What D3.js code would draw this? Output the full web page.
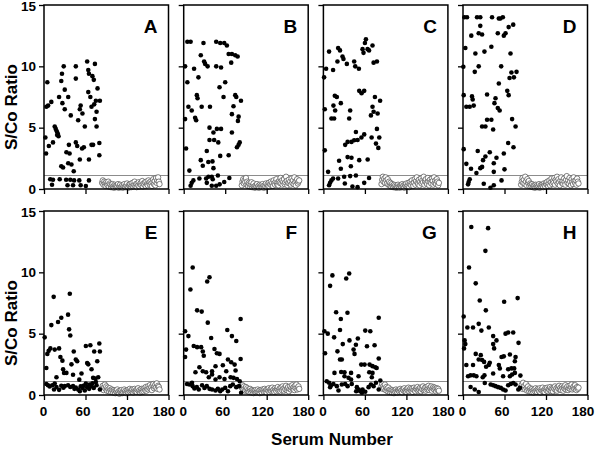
<!DOCTYPE html>
<html><head><meta charset="utf-8">
<script src="https://cdn.jsdelivr.net/npm/d3@7"></script>
<style>body{margin:0;background:#fff}svg{display:block}text{font-family:"Liberation Sans",Arial,sans-serif;font-weight:bold}</style>
</head><body><svg id="c" width="600" height="450"></svg>
<script>
// ---- data ----
const panelLetters = ["A","B","C","D","E","F","G","H"];
const xTicks = [0, 60, 120, 180];
const yTicks = [0, 5, 10, 15];
const cutoff = 1.1;
const negStart = 84; // serum number of first negative serum

const posA = [[4.8,8.7],[3.4,6.7],[6,6.8],[10.6,7.1],[2,4.2],[7,3.5],[3,2.9],[13,3.8],[15.5,5.1],[17,4.9],[18.5,4.7],[20,4.5],[21,4.3],[19,4.4],[9,0.8],[11.6,0.35],[13,0.75],[22.7,0.8],[21.8,7.5],[25,8.8],[26,9.4],[28.5,10],[30,8.1],[26.6,7],[30,6.5],[25,1.85],[27.6,1.75],[32.4,3.0],[36,3.6],[37,2.9],[35,7.5],[38.7,6.0],[35,2.1],[39.7,2.0],[43,1.45],[43.5,0.7],[32,0.75],[34,0.3],[38,0.75],[42,0.3],[46,10],[46,9],[49.4,5.6],[51.8,6.5],[53,6.8],[55.6,6.15],[46,3.8],[48,3.5],[51.8,2.4],[55,3.3],[57.6,3.4],[59,5.1],[51,0.7],[53,0.3],[60.5,0.25],[65,0.7],[62.4,10.4],[64,9.7],[65,9.4],[64,7.9],[67,7.5],[70,9.2],[72,8.9],[73.6,10.2],[68.7,6.7],[72.6,6.9],[75,7.2],[77.4,8.2],[80.8,7.2],[76,6.3],[73.6,5.7],[76,5.1],[65,2.4],[68.7,3.6],[71,3.6],[80,3.75],[80,2.75]];
const posB = [[5.3,12],[10,12],[28.6,11.9],[47,12],[52.8,11.9],[58.6,11.9],[62.4,11.7],[65,11],[69.7,11],[74.5,10.9],[78,10.8],[24.7,10.9],[29.5,10.4],[31,10.2],[34.6,10],[47,10],[54,9.9],[68.7,10.3],[2,10],[15,9.8],[21.3,9.1],[5.3,8.7],[51.8,8.3],[60,8.7],[19,7.65],[20,7.4],[57.6,7.5],[74.5,7.65],[76,7.5],[82.8,7.2],[6.8,6.7],[11.6,6.4],[26,6.7],[38,6.7],[72,6.75],[69.7,6.1],[79.4,5.9],[78.4,5.55],[16.5,5.8],[18,5.6],[2,5.7],[37.3,5.0],[48,4.9],[54,4.9],[43,4.6],[69.7,4.6],[37.3,4.0],[44,4.0],[50,3.8],[81,3.8],[79.4,3.6],[77,3.4],[33.4,3.1],[52.8,2.7],[65,2.75],[3.4,3.3],[24.7,2.35],[27.6,1.9],[35.6,2.2],[41.6,2.25],[43,1.7],[8.2,1.5],[35.8,1.0],[40.6,1.0],[49.4,1.1],[22.7,0.85],[32.4,0.85],[42,0.8],[58.6,0.57],[66,0.9],[14,0.7],[11.6,0.5],[10,0.27],[33.4,0.5],[40.6,0.27],[47,0.27],[52,0.38]];
const posC = [[61.5,12.2],[60,11.9],[71,11.7],[56.6,11.4],[63.9,11.4],[66,11.3],[58,11.1],[21.3,11.5],[24,11.3],[8.2,11.2],[27.6,10.8],[29,10.6],[20.3,10.4],[33.9,10.2],[44.5,10.4],[46,10],[51.3,9.8],[72.6,10.3],[77.4,10.4],[3.9,9.8],[1,9.1],[14,9.7],[51.8,8.0],[55.2,7.8],[59,8.0],[16.5,7.6],[19.4,7.5],[14.5,6.8],[25.2,7.0],[17,6.4],[2,6.5],[11.6,5.75],[15.5,5.75],[38.7,6.4],[37.3,5.75],[74.5,7.5],[82,7.2],[71,6.7],[72.6,6.3],[68.7,6.0],[78.4,6.15],[47,4.65],[49.4,4.0],[55,4.2],[59,4.45],[44.5,3.97],[40.6,3.84],[35,3.84],[31.5,3.6],[77.4,4.9],[80.8,4.2],[69.7,4.2],[76,3.7],[79.4,3.35],[2,3.15],[35,2.6],[40.6,2.55],[22.7,2.3],[39.7,1.85],[51.8,2.35],[64,2.4],[25.2,1.65],[6.8,1.4],[14,0.85],[21.3,0.85],[30,1.0],[38.7,1.05],[47,1.1],[66,0.9],[11.6,0.7],[9.7,0.5],[8.2,0.3],[31,0.45],[42,0.2],[49.4,0.15],[59,0.5]];
const posD = [[2,14],[5.8,14],[20.3,14],[25,14],[42,14],[51.8,13.9],[54,13.9],[57.6,14],[72.6,13.4],[66,13.2],[61.5,12.7],[59,12.5],[50.3,12.7],[25,13.3],[22.7,12.7],[27.6,12.6],[12,12.5],[41,11.6],[3.4,11.5],[31,11.2],[17.9,11.05],[68.7,11.05],[0.5,9.96],[22.7,10],[17,9.55],[55.2,10],[70,9.5],[77.4,9.55],[73.6,9.1],[67.3,9.05],[51.8,8.6],[1,7.65],[13,7.55],[14,7.3],[34.8,7.7],[47,7.4],[45.5,7.0],[64,8.0],[66,7.65],[4.8,6.7],[9.7,6.7],[15.5,6.8],[50.3,6.6],[53,6.4],[34.8,5.65],[41,5.65],[27.6,5.1],[32.4,5.1],[43.6,4.85],[71,5.7],[76,5.1],[1,3.25],[21.3,3.1],[65.3,3.75],[73,3.4],[38.7,3.0],[32.4,2.65],[48.4,2.55],[59,2.9],[44.5,2.1],[29,2.35],[4.8,2.05],[11.6,1.65],[25,1.7],[27.6,1.8],[19.4,1.3],[44.5,1.4],[60,1.6],[9.7,0.8],[8.2,0.57],[7.3,0.38],[30,0.43],[39.7,0.1],[44.5,0.3],[55.7,0.7]];
const posE = [[1,4.7],[3.4,2.2],[4.8,3.35],[6.8,3.6],[9.2,3.8],[10.6,5.7],[14,8.0],[15.5,3.7],[18,1.45],[20.3,5.95],[21.8,3.8],[25,6.3],[23.7,3.1],[26.6,2.8],[27.6,2.1],[29,1.8],[32.4,1.8],[34.8,6.55],[36.3,5.35],[37.3,8.25],[38,4.85],[39.7,2.5],[42,1.65],[43,3.55],[46,2.9],[48,2.75],[51,1.25],[54.2,1.75],[60.5,4.0],[62.4,2.6],[64,2.5],[67,4.05],[68.7,2.1],[71,1.4],[72.6,3.55],[74.5,1.35],[77,2.75],[78.4,1.45],[80,4.2],[80.8,3.55],[5.8,0.8],[8.2,0.7],[12,0.8],[14.5,0.45],[18,0.65],[21.8,0.42],[25,0.75],[30,0.72],[34.8,0.8],[38,0.65],[42,0.72],[46,0.6],[49.4,0.45],[51.8,0.3],[55.7,0.58],[59,0.37],[62.4,0.64],[65.3,0.5],[68.7,0.72],[72,0.58],[76,0.8],[80.8,0.45],[15.5,0.93],[3.4,0.9],[60.5,0.93],[75,1.05],[28,0.6],[44,0.5],[53,0.7],[57,0.75],[66,0.85],[70,0.95]];
const posF = [[13,10.4],[37.3,9.6],[34,9.25],[9.7,8.6],[19.4,6.9],[26,6.8],[34.8,5.9],[82.3,6.2],[2,5.2],[6.8,4.8],[14.5,4.0],[19.4,3.9],[25.2,3.9],[39.7,4.65],[63,5.3],[69.7,4.8],[76,4.4],[3.4,3.7],[2,3.1],[27.6,3.55],[29,3.2],[44.5,3.75],[48,3.4],[51.8,3.35],[64,2.9],[68.7,2.67],[82.3,2.94],[22.7,2.26],[27.6,1.94],[32.4,1.86],[41,1.94],[46,2.34],[56.6,2.43],[61.5,1.94],[73.6,2.48],[75,2.0],[17,1.86],[36.3,1.45],[41,1.67],[46,1.26],[51.8,1.45],[59,1.3],[67.8,1.45],[72,1.4],[77,1.31],[81,1.12],[4.8,0.9],[8.2,0.85],[12,1.0],[13,0.72],[15.5,0.53],[19,0.64],[21.8,0.45],[26.6,0.8],[30,0.58],[33.4,0.72],[37.3,0.5],[41,0.45],[46,0.37],[49.4,0.5],[52.8,0.31],[55.7,0.45],[60,0.58],[64,0.31],[67.3,0.72],[71,0.85],[76,0.64],[80,0.72],[83,0.18]];
const posG = [[37.3,9.9],[33,9.5],[13,9.75],[9.7,8.9],[18.4,6.75],[34.8,6.7],[25.2,6.2],[80,6.3],[1.5,5.2],[6.3,5.0],[24,5.3],[60.5,5.25],[67.8,5.2],[15.5,4.7],[37.7,4.45],[49.8,4.6],[47,4.1],[43.6,3.7],[63,3.97],[74,4.05],[2.4,3.4],[20.3,3.56],[28,4.15],[45,3.35],[24,2.9],[26.6,2.9],[80,2.97],[54.7,2.48],[59.5,2.48],[66.8,2.48],[71,2.35],[75,2.26],[77,2.2],[16,1.8],[25.7,1.88],[30.5,1.85],[40,1.8],[50.8,1.53],[66.3,1.86],[71,1.8],[30.5,1.53],[36.3,1.4],[40,1.26],[70,1.45],[82.3,1.18],[4.8,1.12],[8.2,1.0],[11,0.8],[14.5,0.9],[9.7,0.64],[19.4,0.72],[21.8,0.37],[26.6,0.85],[31.5,0.9],[35,0.72],[41,0.9],[48.4,0.64],[51,0.45],[53.2,0.31],[56.6,0.45],[60.5,0.26],[65.3,0.64],[68.7,0.85],[72.6,0.72],[76,1.0],[80,0.45],[47.4,0.31],[55.7,0.18]];
const posH = [[12,13.7],[36.3,13.6],[32.4,11.75],[8.7,10.4],[18.4,9.1],[59.5,7.6],[79,7.9],[24.2,7.7],[33,6.9],[1,6.4],[6.3,5.5],[14.5,5.5],[22.7,5.8],[26.6,5.25],[37.3,5.5],[61.5,5.0],[65.3,5.1],[72.6,5.1],[43.6,4.8],[48.4,4.45],[2.4,4.45],[3.4,4.15],[1.5,3.8],[43.6,4.15],[45,3.8],[80.3,4.25],[18.4,3.35],[25.7,3.25],[22.7,2.9],[27.6,2.85],[30.5,2.7],[38.7,2.63],[33.4,2.3],[37.3,2.45],[55.7,3.1],[59,3.15],[67.8,3.3],[76,3.1],[4.8,2.45],[14.5,2.45],[51.8,2.45],[53.2,2.17],[75,2.75],[65.3,2.1],[70,2.17],[74,2.17],[7.3,1.53],[11,1.6],[15.5,1.6],[19.4,1.53],[28.5,1.45],[31,1.6],[43.6,1.75],[58,1.53],[67.8,1.53],[71,1.67],[75,1.8],[83,1.58],[11,0.65],[17,0.45],[31.5,0.98],[40,0.85],[43.6,0.8],[47,0.72],[50.8,0.64],[54.7,0.58],[58,0.45],[61.5,0.37],[65.3,0.8],[69,0.9],[72.6,0.98],[76,0.85],[80,0.45],[22.7,0.25],[82.3,0.58]];

const negA = [0.5,0.7,0.35,0.6,0.45,0.25,0.55,0.4,0.3,0.6,0.2,0.45,0.35,0.15,0.3,0.4,0.2,0.1,0.35,0.25,0.15,0.3,0.2,0.4,0.1,0.25,0.35,0.15,0.2,0.3,0.1,0.25,0.4,0.2,0.15,0.3,0.45,0.2,0.1,0.35,0.25,0.4,0.15,0.3,0.5,0.2,0.35,0.6,0.25,0.4,0.15,0.45,0.3,0.55,0.2,0.4,0.5,0.3,0.65,0.2,0.45,0.35,0.55,0.25,0.6,0.4,0.3,0.7,0.5,0.35,0.6,0.45,0.25,0.55,0.8,0.4,0.65,0.3,0.9,0.5,0.7,0.95,0.6,0.4];
const negB = [0.3,0.6,0.8,0.45,0.7,0.55,0.9,0.35,0.6,0.25,0.5,0.4,0.2,0.35,0.55,0.15,0.3,0.45,0.2,0.1,0.3,0.2,0.4,0.15,0.25,0.1,0.35,0.2,0.3,0.15,0.4,0.25,0.1,0.3,0.2,0.45,0.15,0.35,0.25,0.5,0.2,0.4,0.6,0.3,0.5,0.25,0.7,0.45,0.35,0.6,0.8,0.4,0.55,0.3,0.65,0.5,0.9,0.45,0.7,0.35,0.6,0.8,0.4,0.55,1.0,0.65,0.3,0.5,0.75,0.45,0.6,0.35,0.85,0.5,0.7,0.4,0.95,0.55,0.3,0.65,0.8,0.45,0.6,0.7];
const negC = [0.4,0.75,1.0,0.6,0.85,0.5,0.95,0.7,0.45,0.8,0.35,0.6,0.3,0.5,0.2,0.4,0.25,0.15,0.35,0.2,0.3,0.1,0.25,0.15,0.35,0.2,0.1,0.3,0.25,0.15,0.4,0.2,0.3,0.1,0.35,0.25,0.45,0.2,0.3,0.5,0.15,0.4,0.6,0.3,0.7,0.45,0.25,0.55,0.8,0.35,0.65,0.95,0.5,0.4,0.75,0.3,0.6,0.85,0.45,0.7,0.55,1.0,0.35,0.65,0.8,0.5,0.4,0.9,0.6,0.3,0.75,0.55,0.45,0.85,0.65,0.35,0.95,0.5,0.7,0.4,0.8,0.6,0.3,0.5];
const negD = [0.35,0.6,0.9,0.5,0.75,0.45,1.0,0.6,0.3,0.8,0.5,0.65,0.25,0.45,0.35,0.2,0.4,0.15,0.3,0.25,0.1,0.35,0.2,0.3,0.15,0.25,0.4,0.1,0.3,0.2,0.35,0.25,0.15,0.45,0.3,0.2,0.5,0.35,0.6,0.25,0.45,0.7,0.3,0.55,0.85,0.4,0.65,0.5,0.9,0.35,0.75,0.6,1.0,0.45,0.8,0.55,0.3,0.7,0.95,0.5,0.65,0.4,0.85,0.6,0.35,0.75,1.05,0.5,0.7,0.45,0.9,0.6,0.3,0.8,0.55,0.4,0.95,0.65,0.5,0.7,0.35,0.85,0.6,0.45];
const negE = [0.55,0.75,0.4,0.65,0.85,0.5,0.7,0.35,0.6,0.45,0.3,0.55,0.4,0.25,0.45,0.35,0.2,0.4,0.3,0.15,0.35,0.25,0.45,0.2,0.3,0.1,0.35,0.25,0.4,0.15,0.3,0.2,0.45,0.25,0.35,0.15,0.3,0.4,0.2,0.35,0.5,0.25,0.4,0.3,0.45,0.2,0.35,0.5,0.3,0.4,0.25,0.45,0.55,0.3,0.4,0.2,0.35,0.5,0.25,0.45,0.3,0.55,0.4,0.65,0.35,0.5,0.7,0.45,0.6,0.8,0.5,0.65,0.4,0.75,0.9,0.55,0.7,0.85,0.6,0.95,0.5,0.75,0.65,0.45];
const negF = [0.6,0.8,0.45,0.7,0.5,0.35,0.65,0.4,0.55,0.3,0.45,0.25,0.5,0.35,0.2,0.4,0.3,0.15,0.35,0.25,0.4,0.2,0.3,0.45,0.25,0.35,0.15,0.4,0.3,0.2,0.45,0.35,0.25,0.5,0.3,0.4,0.2,0.45,0.35,0.55,0.25,0.4,0.5,0.3,0.6,0.35,0.45,0.25,0.55,0.4,0.3,0.5,0.65,0.35,0.45,0.55,0.3,0.6,0.4,0.7,0.5,0.35,0.6,0.45,0.75,0.4,0.55,0.65,0.3,0.5,0.7,0.45,0.6,0.8,0.5,0.65,0.4,0.75,0.55,0.85,0.45,0.6,0.7,0.5];
const negG = [0.7,0.9,0.5,0.75,0.55,0.85,0.4,0.65,0.5,0.3,0.6,0.4,0.25,0.45,0.35,0.2,0.4,0.3,0.15,0.35,0.25,0.45,0.3,0.2,0.4,0.35,0.25,0.5,0.3,0.4,0.2,0.45,0.35,0.55,0.3,0.4,0.25,0.5,0.35,0.6,0.3,0.45,0.55,0.35,0.5,0.25,0.45,0.6,0.4,0.3,0.55,0.45,0.65,0.35,0.5,0.4,0.6,0.3,0.55,0.45,0.7,0.4,0.5,0.6,0.35,0.65,0.45,0.55,0.75,0.4,0.6,0.5,0.7,0.35,0.55,0.65,0.45,0.6,0.5,0.3,0.55,0.4,0.5,0.35];
const negH = [0.65,0.85,0.5,1.0,0.6,0.75,0.45,0.9,0.55,0.35,0.7,0.45,0.3,0.55,0.4,0.25,0.5,0.35,0.2,0.45,0.3,0.55,0.35,0.25,0.5,0.4,0.3,0.55,0.2,0.45,0.35,0.6,0.3,0.4,0.25,0.55,0.45,0.35,0.6,0.3,0.5,0.4,0.65,0.35,0.55,0.45,0.3,0.6,0.5,0.7,0.4,0.55,0.35,0.65,0.5,0.75,0.45,0.6,0.4,0.7,0.55,0.35,0.65,0.5,0.8,0.45,0.6,0.7,0.4,0.55,0.75,0.5,0.65,0.85,0.45,0.6,0.7,0.5,0.8,0.55,0.4,0.65,0.5,0.6];

const positives = [posA,posB,posC,posD,posE,posF,posG,posH];
const negatives = [negA,negB,negC,negD,negE,negF,negG,negH];

// ---- layout ----
const svg = d3.select("#c");
const colLeft = [44, 183.7, 323.4, 463];
const plotW = 124.5;
const rowTop = [5, 211], plotH = 184;
const xLabelShift = {0: -1, 60: -3, 120: -4.5, 180: -5};

panelLetters.forEach((letter, i) => {
  const row = Math.floor(i / 4), col = i % 4;
  const x0 = colLeft[col], y0 = rowTop[row];
  const x = d3.scaleLinear().domain([0, 180]).range([x0, x0 + plotW]);
  const y = d3.scaleLinear().domain([0, 15]).range([y0 + plotH, y0]);
  const g = svg.append("g");

  // cutoff line
  g.append("line").attr("x1", x(0)).attr("x2", x(180)).attr("y1", y(cutoff)).attr("y2", y(cutoff))
    .attr("stroke", "#8c8c8c").attr("stroke-width", 1);

  // negatives (open circles)
  g.append("g").selectAll("circle").data(negatives[i]).join("circle")
    .attr("cx", (d, k) => x(negStart + k)).attr("cy", d => y(d)).attr("r", 2.7)
    .attr("fill", "#fff").attr("stroke", "#555").attr("stroke-width", 0.75);

  // positives (filled)
  g.append("g").selectAll("circle").data(positives[i]).join("circle")
    .attr("cx", d => x(d[0])).attr("cy", d => y(d[1])).attr("r", 2.3).attr("fill", "#000");

  // axes
  const ax = d3.axisBottom(x).tickValues(xTicks).tickSize(5).tickPadding(6)
    .tickFormat(row === 1 ? d3.format("d") : () => "");
  const ay = d3.axisLeft(y).tickValues(yTicks).tickSize(5).tickPadding(3)
    .tickFormat(col === 0 ? d3.format("d") : () => "");
  const gx = g.append("g").attr("transform", `translate(0,${y0 + plotH})`).call(ax);
  const gy = g.append("g").attr("transform", `translate(${x0},0)`).call(ay);
  [gx, gy].forEach(a => {
    a.select(".domain").remove();
    a.selectAll("line").attr("stroke", "#000").attr("stroke-width", 1.3);
    a.selectAll("text").attr("font-size", 13.5).attr("font-weight", "bold").attr("fill", "#000")
      .attr("font-family", "Liberation Sans, Arial, sans-serif");
  });
  gx.selectAll("text").attr("dx", d => xLabelShift[d]);
  gy.selectAll("text").filter(d => d === 15).attr("y", 1.5);

  // frame
  g.append("rect").attr("x", x0).attr("y", y0).attr("width", plotW).attr("height", plotH)
    .attr("fill", "none").attr("stroke", "#000").attr("stroke-width", 1.5);

  // letter
  g.append("text").attr("x", x0 + plotW - 11).attr("y", y0 + 28).attr("text-anchor", "end")
    .attr("font-size", 19).text(letter);
});

// axis titles
[107, 323].forEach(cy => {
  svg.append("text").attr("transform", `translate(17,${cy}) rotate(-90)`).attr("text-anchor", "middle")
    .attr("font-size", 17).text("S/Co Ratio");
});
svg.append("text").attr("x", 332).attr("y", 445).attr("text-anchor", "middle").attr("font-size", 17).text("Serum Number");
</script></body></html>
